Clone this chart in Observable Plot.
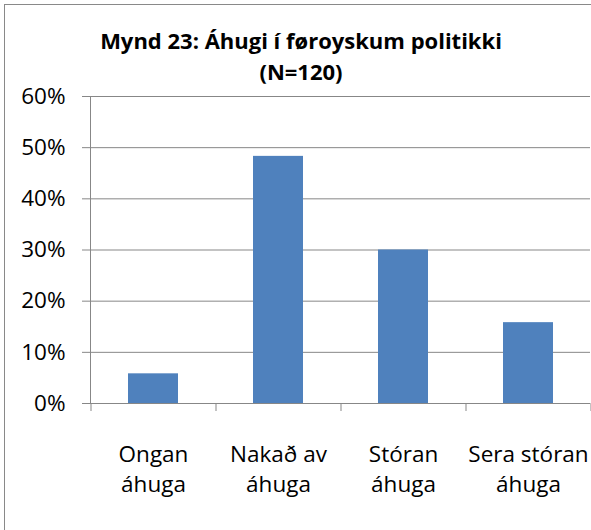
<!DOCTYPE html>
<html><head><meta charset="utf-8">
<script src="https://cdn.jsdelivr.net/npm/d3@7"></script>
<script src="https://cdn.jsdelivr.net/npm/@observablehq/plot@0.6"></script>
<style>
html,body{margin:0;padding:0;overflow:hidden;background:#fff;}
#wrap{position:relative;width:591px;height:530px;overflow:hidden;font-family:"Open Sans";}
#frame{position:absolute;left:4px;top:4px;width:700px;height:700px;border:1px solid #898989;box-sizing:border-box;}
#title{position:absolute;left:0;top:25px;width:602px;text-align:center;font-weight:bold;font-size:22px;line-height:31px;color:#000;}
#chart{position:absolute;left:0;top:0;}
</style></head>
<body><div id="wrap"><div id="frame"></div><div id="chart"></div><div id="title">Mynd 23: Áhugi í føroyskum politikki<br>(N=120)</div></div>
<script>
const categories = ["Ongan\náhuga", "Nakað av\náhuga", "Stóran\náhuga", "Sera stóran\náhuga"];
const values = [0.058, 0.483, 0.300, 0.158];
const yTicks = [0, 0.1, 0.2, 0.3, 0.4, 0.5, 0.6];
const data = categories.map((c, i) => ({category: c, value: values[i]}));
const grid = "#878787";
const chart = Plot.plot({
  width: 591, height: 530, marginTop: 96, marginBottom: 127, marginLeft: 90, marginRight: 1,
  style: {fontFamily: '"Open Sans"', fontSize: "22.5px", color: "#000", background: "transparent", overflow: "visible"},
  x: {domain: categories, paddingInner: 0.6, paddingOuter: 0.3, label: null},
  y: {domain: [0, 0.6], label: null},
  marks: [
    Plot.ruleY(yTicks.slice(1), {stroke: grid}),
    Plot.axisY({ticks: yTicks, tickFormat: d3.format(".0%"), tickSize: 8, tickPadding: 17, stroke: grid, label: null}),
    Plot.barY(data, {x: "category", y: "value", fill: "#4F81BD"}),
    Plot.ruleY([0], {stroke: grid}),
    Plot.frame({anchor: "left", stroke: grid}),
    Plot.axisX({ticks: categories, text: null, tickSize: 8, dx: -62.5, stroke: grid, label: null}),
    Plot.axisX({ticks: [categories[categories.length - 1]], text: null, tickSize: 8, dx: 62.5, stroke: grid, label: null}),
    Plot.text(categories, {x: d => d, frameAnchor: "bottom", lineAnchor: "top", dy: 37, lineHeight: 1.333, fill: "#000", fontSize: 22.5})
  ]
});
document.getElementById("chart").appendChild(chart);
</script>
</body></html>
